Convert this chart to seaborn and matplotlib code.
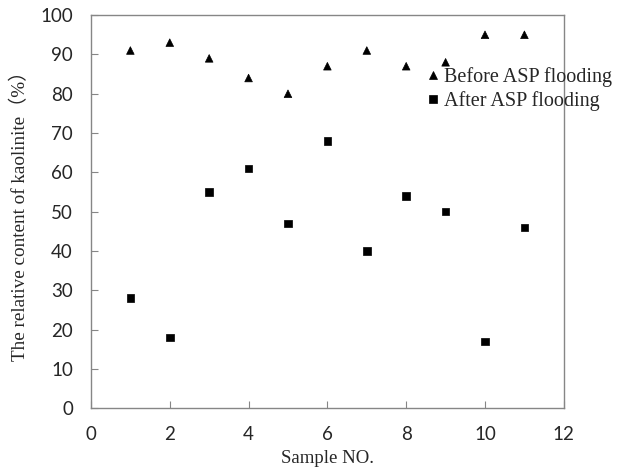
import pandas as pd
import matplotlib
matplotlib.use("Agg")
import matplotlib.pyplot as plt
import seaborn as sns

# data
sample_no = [1, 2, 3, 4, 5, 6, 7, 8, 9, 10, 11]
before_asp = [91, 93, 89, 84, 80, 87, 91, 87, 88, 95, 95]
after_asp = [28, 18, 55, 61, 47, 68, 40, 54, 50, 17, 46]

df = pd.DataFrame({
    "sample": sample_no * 2,
    "content": before_asp + after_asp,
    "series": ["Before ASP flooding"] * 11 + ["After ASP flooding"] * 11,
})

sns.set_style("white")
plt.rcParams["font.family"] = ["Lato", "DejaVu Sans"]

fig = plt.figure(figsize=(6.23, 4.73), dpi=100)
ax = fig.add_axes([0.146, 0.137, 0.759, 0.831])

sns.scatterplot(
    data=df, x="sample", y="content",
    style="series",
    markers={"Before ASP flooding": "^", "After ASP flooding": "s"},
    color="black", s=30, edgecolor="black", linewidth=0.5,
    ax=ax,
)

ax.set_xlim(0, 12)
ax.set_ylim(0, 100)
ax.set_xticks(range(0, 13, 2))
ax.set_yticks(range(0, 101, 10))
ax.tick_params(direction="in", length=5, color="#868686", labelsize=13.5,
               bottom=True, left=True)
ax.tick_params(axis="y", pad=13)
ax.tick_params(axis="x", pad=13)
for sp in ax.spines.values():
    sp.set_color("#868686")
    sp.set_linewidth(1)

ax.set_xlabel("Sample NO.", fontdict={"family": "Liberation Serif", "size": 13.5},
              labelpad=5)
ax.set_ylabel("The relative content of kaolinite\uff08%\uff09",
              fontdict={"family": ["Liberation Serif", "Noto Sans CJK SC"], "size": 13.8},
              labelpad=8)

leg = ax.legend(loc="center left", bbox_to_anchor=(0.68, 0.812), frameon=False,
                prop={"family": "Liberation Serif", "size": 14.5},
                handletextpad=0.05, labelspacing=0.2, borderpad=0,
                handlelength=1.0, markerscale=1)

fig.savefig("out.png", dpi=100)
